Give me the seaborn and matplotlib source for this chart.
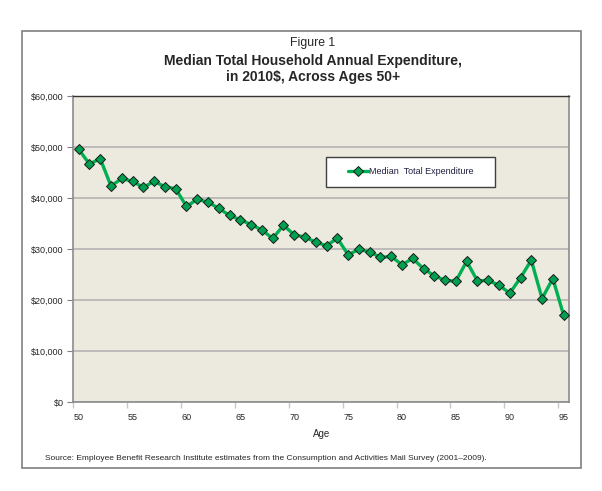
import numpy as np
import pandas as pd
import matplotlib
matplotlib.use("Agg")
import matplotlib.pyplot as plt
import seaborn as sns
from matplotlib.patches import Rectangle
from matplotlib.ticker import FuncFormatter

# --- data ---
ages = list(range(50, 96))
expenditure = [49550, 46670, 47720, 42350, 43860, 43270, 42100, 43270, 42230, 41840,
               38370, 39750, 39220, 37980, 36600, 35760, 34800, 33760, 32100, 34650,
               32820, 32350, 31370, 30670, 32160, 28900, 29940, 29490, 28370, 28570,
               26950, 28180, 26150, 24800, 23880, 23730, 27590, 23800, 23860, 22940,
               21370, 24390, 27840, 20330, 24250, 17060]
x_labels = [50, 55, 60, 65, 70, 75, 80, 85, 90, 95]
y_ticks = [0, 10000, 20000, 30000, 40000, 50000, 60000]

df = pd.DataFrame({"Age": ages, "Median  Total Expenditure": expenditure})

sns.set_style("white")
plt.rcParams["font.family"] = ["Liberation Sans", "DejaVu Sans"]

W, H = 602, 491
fig = plt.figure(figsize=(W / 100, H / 100), dpi=100)
ax = fig.add_axes([73.3 / W, 1 - 402.3 / H, (569 - 73.3) / W, (402.3 - 96) / H])
ax.set_facecolor("#ECE9DF")

# outer frame round the whole chart
fig.patches.append(Rectangle((22 / W, 1 - 468 / H), 559 / W, 437 / H,
                             transform=fig.transFigure, fill=False,
                             edgecolor="#7f7f7f", linewidth=1.2))

sns.lineplot(data=df, x="Age", y="Median  Total Expenditure", ax=ax,
             color="#00B050", linewidth=2.4, marker="D", markersize=5.6,
             markerfacecolor="#00A050", markeredgecolor="#1a1a1a",
             markeredgewidth=0.7, label="Median  Total Expenditure", zorder=3)

ax.set_xlim(49.5, 95.5)
ax.set_ylim(0, 60000)
ax.set_yticks(y_ticks)
ax.yaxis.set_major_formatter(FuncFormatter(lambda v, p: f"${v:,.0f}"))
ax.grid(axis="y", color="#b4b4b4", linewidth=1.2)
ax.set_axisbelow(True)

ax.set_xticks(x_labels)
ax.set_xticks([v - 0.5 for v in x_labels], minor=True)
ax.tick_params(axis="x", which="major", length=0, labelsize=6.5, pad=8)
ax.tick_params(axis="x", which="minor", length=4, color="#c8c8c8", width=1, direction="out")
ax.tick_params(axis="y", length=4, color="#808080", labelsize=6.5, direction="out", pad=3)
ax.xaxis.set_ticks_position("bottom")
ax.yaxis.set_ticks_position("left")

for side in ["left", "right", "bottom"]:
    ax.spines[side].set_color("#8c8c8c")
    ax.spines[side].set_linewidth(1.2)
ax.spines["top"].set_color("#333333")
ax.spines["top"].set_linewidth(1.0)

ax.set_xlabel("Age", fontsize=7, labelpad=5)
ax.set_ylabel("")

# legend: white box drawn by hand, entries placed inside it
box = Rectangle((325.7 / W, 1 - 187.3 / H), (495 - 325.7) / W, 30 / H,
                transform=fig.transFigure, facecolor="white",
                edgecolor="#404040", linewidth=1.0, zorder=4, clip_on=False)
ax.add_patch(box)
leg = ax.legend(loc="center left", bbox_to_anchor=(348 / W, 1 - 172 / H),
                bbox_transform=fig.transFigure, fontsize=6.5, frameon=False,
                borderpad=0, borderaxespad=0, handlelength=2.2, handletextpad=0.15)
leg.set_zorder(5)
for t in leg.get_texts():
    t.set_color("#1f1f3f")

tx = 313 / W
fig.text(tx, 1 - 43 / H, "Figure 1", ha="center", va="center", fontsize=8.8)
fig.text(tx, 1 - 61 / H, "Median Total Household Annual Expenditure,",
         ha="center", va="center", fontsize=10, fontweight="bold")
fig.text(tx, 1 - 77.5 / H, "in 2010$, Across Ages 50+",
         ha="center", va="center", fontsize=10, fontweight="bold")
fig.text(45 / W, 1 - 458 / H,
         "Source: Employee Benefit Research Institute estimates from the Consumption and Activities Mail Survey (2001\u20132009).",
         ha="left", va="center", fontsize=6)

fig.savefig("out.png", dpi=100)
